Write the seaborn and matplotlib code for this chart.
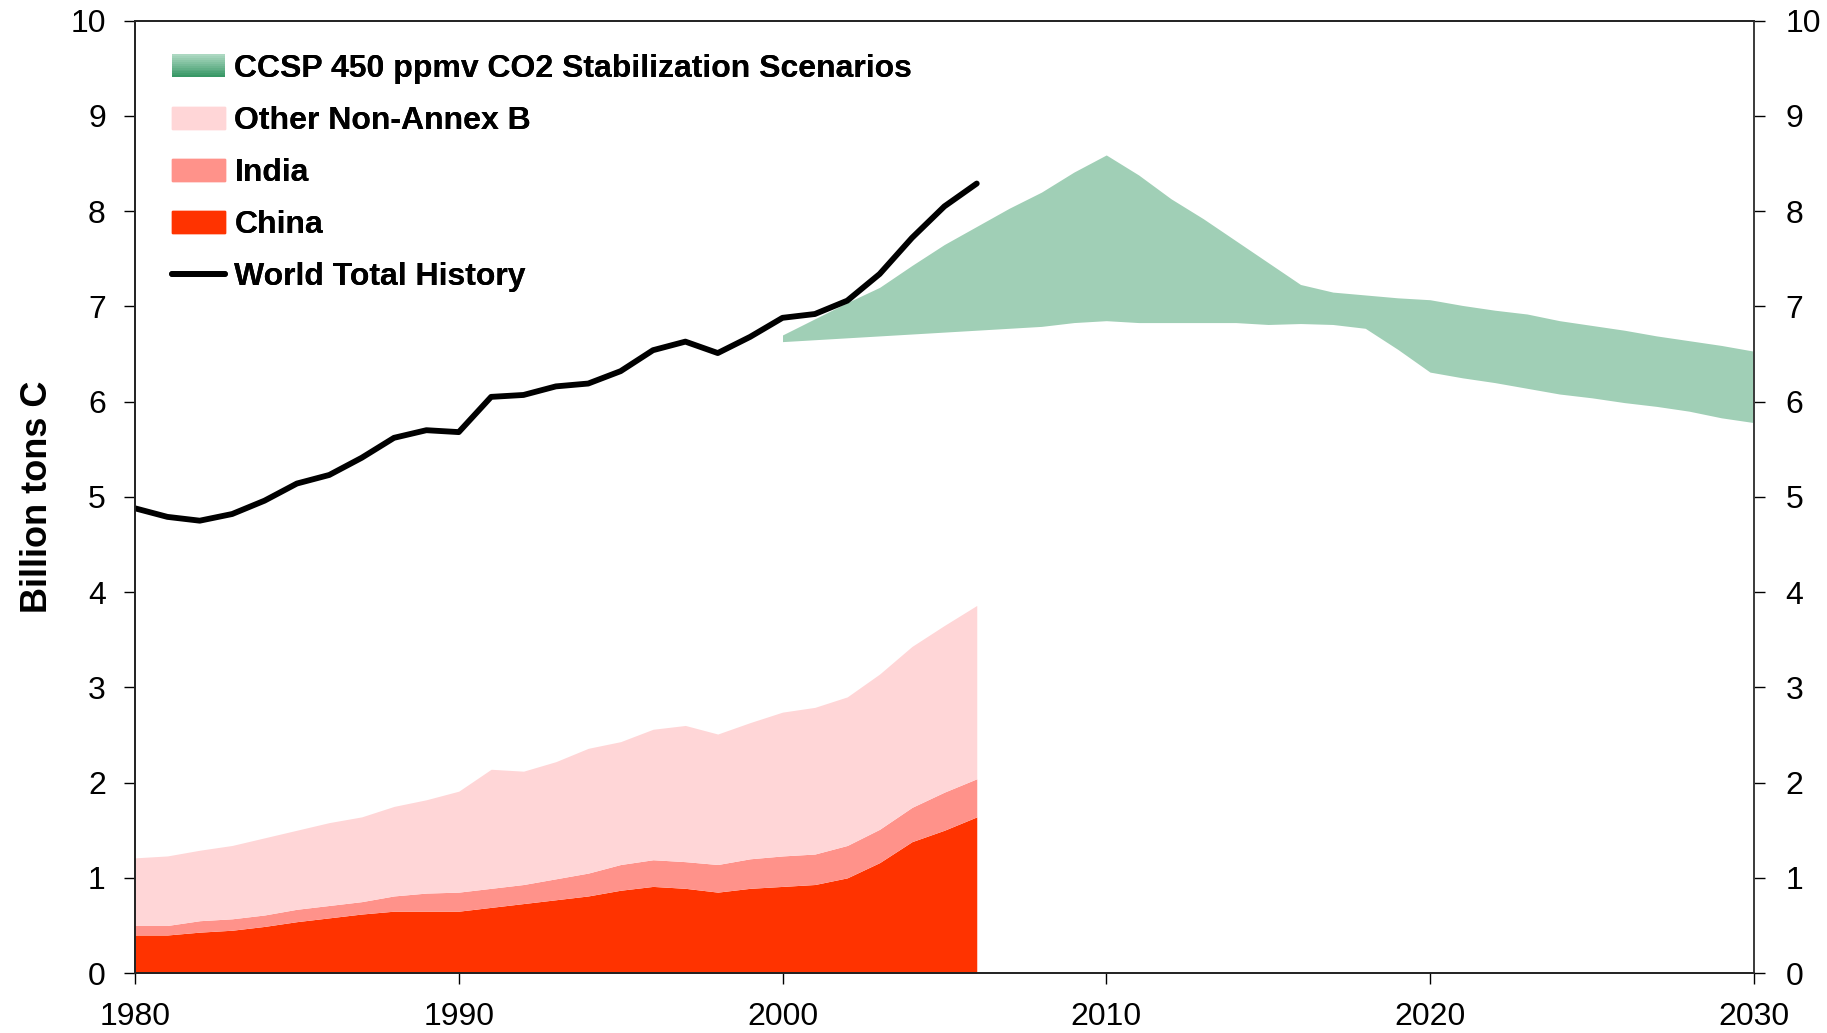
import numpy as np
import matplotlib
matplotlib.use("Agg")
import matplotlib.pyplot as plt
from matplotlib.patches import Rectangle
from matplotlib.lines import Line2D
from matplotlib.legend_handler import HandlerBase
from matplotlib.colors import to_rgb
import seaborn as sns

# historical emissions (billion tons C), 1980-2006
hist_years = list(range(1980, 2007))
china = [0.40, 0.40, 0.43, 0.45, 0.49, 0.54, 0.58, 0.62, 0.65, 0.65, 0.65, 0.69,
         0.73, 0.77, 0.81, 0.87, 0.91, 0.89, 0.85, 0.89, 0.91, 0.93, 1.00, 1.16,
         1.38, 1.50, 1.64]
india = [0.10, 0.10, 0.12, 0.12, 0.12, 0.13, 0.13, 0.13, 0.16, 0.19, 0.20, 0.20,
         0.20, 0.22, 0.24, 0.27, 0.28, 0.28, 0.29, 0.31, 0.32, 0.32, 0.34, 0.35,
         0.36, 0.40, 0.40]
other_non_annex_b = [0.71, 0.73, 0.74, 0.77, 0.81, 0.83, 0.87, 0.89, 0.94, 0.98,
                     1.06, 1.25, 1.19, 1.23, 1.31, 1.29, 1.37, 1.43, 1.37, 1.43,
                     1.51, 1.54, 1.56, 1.63, 1.69, 1.75, 1.82]
world_total = [4.88, 4.79, 4.75, 4.82, 4.96, 5.14, 5.23, 5.41, 5.62, 5.70, 5.68,
               6.05, 6.07, 6.16, 6.19, 6.32, 6.54, 6.63, 6.51, 6.68, 6.88, 6.92,
               7.06, 7.34, 7.72, 8.05, 8.29]

# CCSP 450 ppmv stabilization scenario range, 2000-2030
scen_years = list(range(2000, 2031))
scen_upper = [6.70, 6.87, 7.04, 7.20, 7.43, 7.65, 7.84, 8.03, 8.20, 8.41, 8.59,
              8.38, 8.13, 7.92, 7.69, 7.46, 7.23, 7.15, 7.12, 7.09, 7.07, 7.01,
              6.96, 6.92, 6.85, 6.80, 6.75, 6.69, 6.64, 6.59, 6.53]
scen_lower = [6.63, 6.65, 6.67, 6.69, 6.71, 6.73, 6.75, 6.77, 6.79, 6.83, 6.85,
              6.83, 6.83, 6.83, 6.83, 6.81, 6.82, 6.81, 6.77, 6.55, 6.31, 6.25,
              6.20, 6.14, 6.08, 6.04, 5.99, 5.95, 5.90, 5.83, 5.78]

labels = ["CCSP 450 ppmv CO2 Stabilization Scenarios", "Other Non-Annex B",
          "India", "China", "World Total History"]
y_ticks = list(range(0, 11))
x_ticks = [1980, 1990, 2000, 2010, 2020, 2030]

sns.set_theme(style="ticks")
plt.rcParams["font.family"] = ["Liberation Sans", "DejaVu Sans"]
plt.rcParams["text.color"] = "black"
plt.rcParams["axes.labelcolor"] = "black"


class GradientHandler(HandlerBase):
    # legend swatch shaded light (top) to dark green (bottom)
    def create_artists(self, legend, orig_handle, xdescent, ydescent,
                       width, height, fontsize, trans):
        top = np.array(to_rgb("#acd8c1"))
        bot = np.array(to_rgb("#389866"))
        n = 12
        arts = []
        for i in range(n):
            f = i / (n - 1)
            c = bot * (1 - f) + top * f
            r = Rectangle((-xdescent, -ydescent + height * i / n), width,
                          height / n + 0.3, facecolor=c, edgecolor="none",
                          transform=trans)
            arts.append(r)
        return arts


fig = plt.figure(figsize=(18.27, 10.33), dpi=100)
ax = fig.add_axes([0.0739, 0.058, 0.886, 0.922])

ax.fill_between(scen_years, scen_lower, scen_upper, color="#a0cfb6", lw=0)
ax.stackplot(hist_years, china, india, other_non_annex_b,
             colors=["#ff3300", "#ff928a", "#ffd6d7"], linewidth=0)
sns.lineplot(x=hist_years, y=world_total, color="black", linewidth=4.2,
             ax=ax, legend=False)

ax.set_xlim(1980, 2030)
ax.set_ylim(0, 10)
ax.set_xticks(x_ticks)
ax.set_yticks(y_ticks)
ax.tick_params(axis="both", direction="out", length=8, width=1, colors="black",
               labelsize=23)
ax.tick_params(axis="x", pad=13)
ax.tick_params(axis="y", pad=13)
for s in ax.spines.values():
    s.set_color("black")
    s.set_linewidth(1.2)
ax.set_ylabel("Billion tons C", fontsize=26, fontweight="bold", labelpad=11,
              color="black")
ax.set_xlabel("")

ax2 = ax.twinx()
ax2.set_ylim(0, 10)
ax2.set_yticks(y_ticks)
ax2.tick_params(axis="y", direction="out", length=8, width=1, colors="black",
                labelsize=23, pad=15)
ax2.spines["right"].set_color("#444444")
ax2.spines["right"].set_linewidth(1.2)

handles = [Rectangle((0, 0), 1, 1, color="#a0cfb6"),
           Rectangle((0, 0), 1, 1, color="#ffd6d7"),
           Rectangle((0, 0), 1, 1, color="#ff928a"),
           Rectangle((0, 0), 1, 1, color="#ff3300"),
           Line2D([], [], color="black", linewidth=4.2)]
leg = ax.legend(handles, labels, loc="upper left", bbox_to_anchor=(0.0229, 0.965),
                frameon=False, borderpad=0, borderaxespad=0, handlelength=1.65,
                handletextpad=0.3, labelspacing=0.69,
                prop={"size": 23, "weight": "bold"},
                handler_map={handles[0]: GradientHandler()})
for t in leg.get_texts():
    t.set_color("black")
ax.add_artist(leg)

fig.savefig("out.png", dpi=100)
